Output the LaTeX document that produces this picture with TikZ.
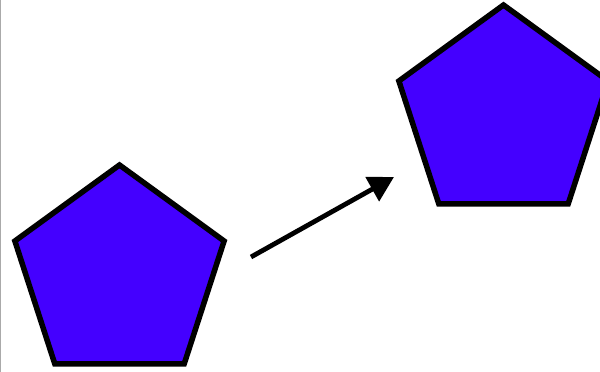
\documentclass[tikz,border=0pt]{standalone}
\usepackage{tikz}
\usepackage{xcolor}
\usetikzlibrary{arrows.meta,shapes.geometric}
\definecolor{Violet}{HTML}{4400FF}
\definecolor{Edge}{HTML}{AAAAAA}

\begin{document}
\begin{tikzpicture}[x=1pt,y=-1pt,
  penta/.style={regular polygon,regular polygon sides=5,minimum size=220pt,inner sep=0pt,
    draw=black,fill=Violet,line width=5.5pt}]
  \clip (0,0) rectangle (600,372);
  \useasboundingbox (0,0) rectangle (600,372);
  \draw[Edge,line width=1.2pt] (0.6,0) -- (0.6,372);
  \node[penta] (left) at (119.5,275) {};
  \node[penta] (right) at (503.5,115) {};
  \coordinate (start) at (251,257);
  \coordinate (end) at (394,177);
  \draw[-{Triangle[length=25pt,width=27pt]},line width=4.8pt] (start) -- (end);
\end{tikzpicture}
\end{document}
